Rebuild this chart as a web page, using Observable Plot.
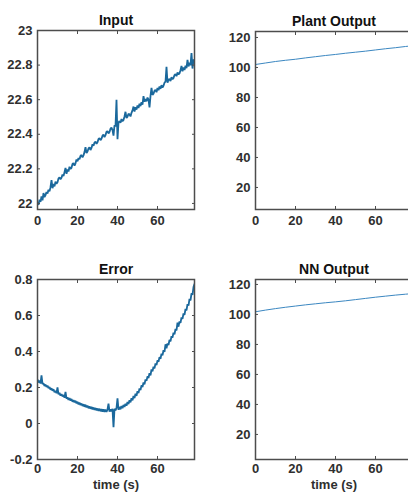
<!DOCTYPE html>
<html><head><meta charset="utf-8">
<script src="https://cdn.jsdelivr.net/npm/d3@7"></script>
<script src="https://cdn.jsdelivr.net/npm/@observablehq/plot@0.6"></script>
<style>
html,body{margin:0;padding:0;background:#fff;}
#root{position:relative;width:408px;height:499px;overflow:hidden;font-family:"Liberation Sans",Arial,sans-serif;}
.panel{position:absolute;}
</style></head><body><div id="root"></div>
<script>
// sample grid (s)
const sampleTimes = d3.range(0, 79, 0.5);
const inputValues = [
22.004,21.992, 22.022,22.009, 22.041,22.018, 22.060,22.036, 22.048,22.066,
22.058,22.079, 22.070,22.094, 22.135,22.088, 22.112,22.099, 22.126,22.114,
22.122,22.145, 22.150,22.140, 22.149,22.168, 22.158,22.181, 22.205,22.171,
22.196,22.185, 22.212,22.199, 22.206,22.228, 22.233,22.218, 22.232,22.255,
22.244,22.262, 22.256,22.275, 22.280,22.266, 22.278,22.297, 22.325,22.291,
22.300,22.318, 22.324,22.309, 22.321,22.342, 22.333,22.352, 22.357,22.345,
22.354,22.373, 22.377,22.366, 22.374,22.392, 22.398,22.384, 22.395,22.414,
22.418,22.405, 22.413,22.432, 22.438,22.424, 22.392,22.452, 22.445,22.600,
22.372,22.468, 22.476,22.466, 22.488,22.476, 22.482,22.503, 22.530,22.494,
22.502,22.519, 22.514,22.503, 22.524,22.538, 22.560,22.531, 22.556,22.543,
22.566,22.552, 22.577,22.563, 22.586,22.571, 22.620,22.588, 22.603,22.591,
22.612,22.601, 22.555,22.622, 22.668,22.628, 22.635,22.652, 22.657,22.643,
22.668,22.655, 22.676,22.663, 22.684,22.671, 22.680,22.698, 22.704,22.790,
22.698,22.716, 22.720,22.708, 22.730,22.718, 22.725,22.742, 22.748,22.736,
22.757,22.746, 22.752,22.770, 22.795,22.764, 22.786,22.772, 22.796,22.782,
22.830,22.792, 22.813,22.800, 22.870,22.780, 22.832,22.826
];
const errorValues = [
0.244,0.228, 0.238,0.222, 0.268,0.219, 0.224,0.208, 0.216,0.203,
0.210,0.196, 0.203,0.188, 0.196,0.182, 0.190,0.174, 0.182,0.168,
0.200,0.162, 0.170,0.155, 0.163,0.150, 0.158,0.143, 0.175,0.138,
0.146,0.131, 0.141,0.127, 0.136,0.121, 0.130,0.118, 0.126,0.112,
0.121,0.106, 0.116,0.102, 0.111,0.097, 0.107,0.093, 0.104,0.090,
0.099,0.085, 0.095,0.082, 0.092,0.079, 0.089,0.076, 0.086,0.073,
0.083,0.070, 0.082,0.068, 0.080,0.066, 0.078,0.065, 0.077,0.064,
0.078,0.110, 0.066,0.079, 0.067,0.081, -0.020,0.082, 0.072,0.086,
0.140,0.076, 0.092,0.079, 0.097,0.085, 0.103,0.092, 0.110,0.099,
0.120,0.108, 0.130,0.118, 0.141,0.129, 0.153,0.141, 0.166,0.154,
0.180,0.169, 0.195,0.186, 0.212,0.203, 0.228,0.218, 0.245,0.237,
0.262,0.253, 0.280,0.268, 0.300,0.290, 0.315,0.306, 0.334,0.324,
0.351,0.343, 0.369,0.360, 0.388,0.379, 0.407,0.398, 0.440,0.418,
0.445,0.436, 0.465,0.456, 0.485,0.477, 0.505,0.496, 0.525,0.517,
0.560,0.538, 0.567,0.559, 0.589,0.581, 0.611,0.603, 0.636,0.628,
0.663,0.655, 0.692,0.684, 0.723,0.715, 0.758,0.775
];
const smoothTimes = [0,5,10,15,20,25,30,35,40,45,50,55,60,65,70,75,78.5];
const plantValues = [102,103,104,104.8,105.5,106.4,107.2,108,108.7,109.5,110.2,110.9,111.7,112.5,113.2,114,114.5];
const nnValues = [101.8,102.9,103.9,104.8,105.6,106.4,107.1,107.8,108.4,109.1,109.9,110.7,111.5,112.2,112.9,113.5,113.9];

const xTicks = [0,20,40,60];
const inputTicks = [22,22.2,22.4,22.6,22.8,23];
const errorTicks = [-0.2,0,0.2,0.4,0.6,0.8];
const outputTicks = [20,40,60,80,100,120];
const titles = ["Input","Plant Output","Error","NN Output"];
const xLabel = "time (s)";

const root = document.getElementById("root");
const frameColor = "#4d4d4d";
const textColor = "#2f2f2f";

function panel({left, top, width, height, ml, mr, mt, mb, yDomain, yTicks, times, values, title, xlab, stroke, strokeWidth, xPad}) {
  const data = times.map((t, i) => ({t, v: values[i]}));
  const marks = [
    Plot.line(data, {x: "t", y: "v", stroke, strokeWidth, strokeLinejoin: "bevel", clip: true}),
    Plot.frame({stroke: frameColor, strokeWidth: 1.5}),
    Plot.axisX(xTicks, {anchor: "bottom", tickSize: -3, fill: "none", stroke: frameColor}),
    Plot.axisX(xTicks, {anchor: "top", tickSize: -3, fill: "none", stroke: frameColor}),
    Plot.axisY(yTicks, {anchor: "left", tickSize: -3, fill: "none", stroke: frameColor}),
    Plot.axisY(yTicks, {anchor: "right", tickSize: -3, fill: "none", stroke: frameColor}),
    Plot.axisX(xTicks, {anchor: "bottom", tickSize: 0, tickPadding: xPad, fill: textColor, fontSize: 13, fontWeight: "bold", tickFormat: d => String(d)}),
    Plot.axisY(yTicks, {anchor: "left", tickSize: 0, tickPadding: 5, fill: textColor, fontSize: 13, fontWeight: "bold", tickFormat: d => String(d)}),
    Plot.text([title], {frameAnchor: "top", dy: -6, lineAnchor: "bottom", fontSize: 14, fontWeight: "bold", fill: "#111"})
  ];
  if (xlab) marks.push(Plot.text([xlab], {frameAnchor: "bottom", dy: 25, lineAnchor: "middle", fontSize: 13, fontWeight: "bold", fill: textColor}));
  const svg = Plot.plot({
    width, height,
    marginLeft: ml, marginRight: mr, marginTop: mt, marginBottom: mb,
    x: {domain: [0, 78.5], label: null},
    y: {domain: yDomain, label: null},
    style: {fontFamily: '"Liberation Sans", Arial, sans-serif', background: "transparent", overflow: "visible"},
    marks
  });
  svg.classList.add("panel");
  svg.style.left = left + "px";
  svg.style.top = top + "px";
  root.appendChild(svg);
}

const noisyStroke = "#1a689c";
const smoothStroke = "#3b87c1";

panel({left: 0, top: 0, width: 204, height: 250, ml: 37, mr: 10, mt: 30, mb: 41,
  yDomain: [21.965, 23], yTicks: inputTicks, times: sampleTimes, values: inputValues,
  title: titles[0], stroke: noisyStroke, strokeWidth: 1.8, xPad: 6});
panel({left: 218, top: 0, width: 200, height: 250, ml: 37, mr: 6, mt: 31, mb: 41,
  yDomain: [5.3, 124], yTicks: outputTicks, times: smoothTimes, values: plantValues,
  title: titles[1], stroke: smoothStroke, strokeWidth: 1, xPad: 6});
panel({left: 0, top: 250, width: 204, height: 249, ml: 37, mr: 10, mt: 29, mb: 40,
  yDomain: [-0.2, 0.8], yTicks: errorTicks, times: sampleTimes, values: errorValues,
  title: titles[2], xlab: xLabel, stroke: noisyStroke, strokeWidth: 1.8, xPad: 4});
panel({left: 218, top: 250, width: 200, height: 249, ml: 37, mr: 6, mt: 29, mb: 40,
  yDomain: [3.3, 123.3], yTicks: outputTicks, times: smoothTimes, values: nnValues,
  title: titles[3], xlab: xLabel, stroke: smoothStroke, strokeWidth: 1, xPad: 4});
</script></body></html>
